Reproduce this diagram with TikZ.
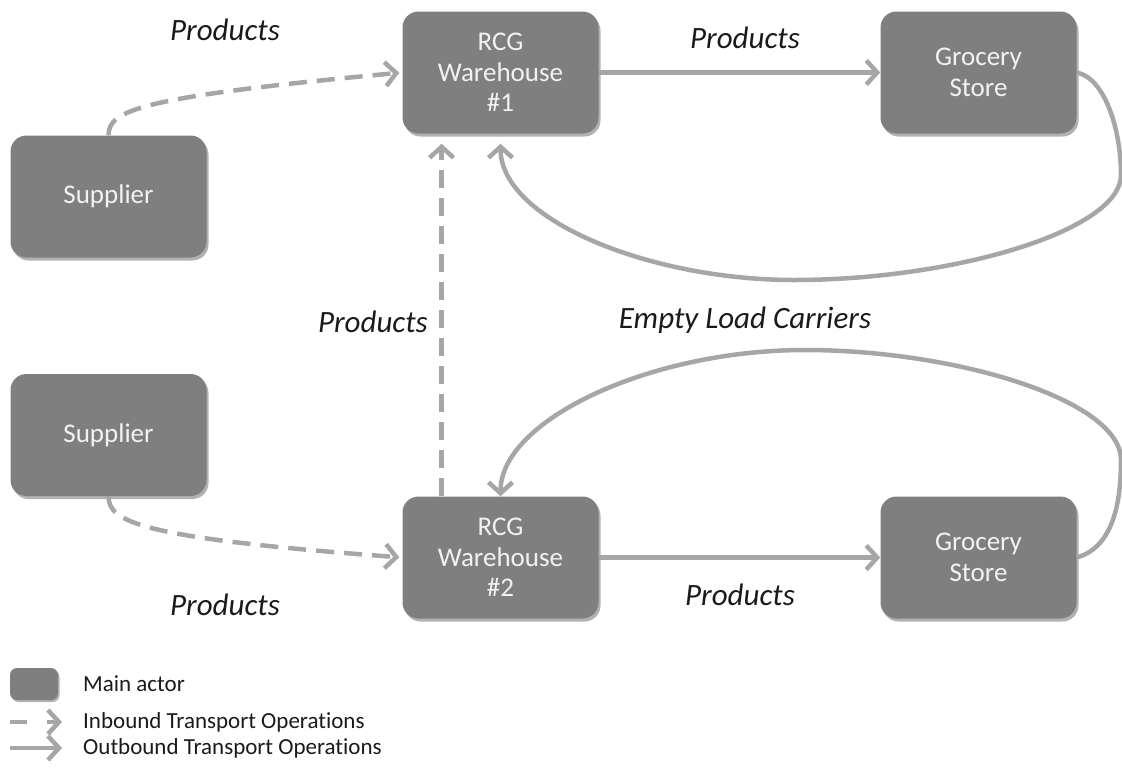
\documentclass[tikz,border=0pt]{standalone}
\usepackage{fontspec}
\setmainfont{Carlito}[Ligatures=NoCommon]
\usetikzlibrary{arrows.meta,shadows,calc}
\definecolor{boxgray}{HTML}{7F7F7F}
\definecolor{arrgray}{HTML}{A6A6A6}
\definecolor{lbl}{HTML}{1A1A1A}
\begin{document}
\begin{tikzpicture}[x=1pt,y=-1pt,
  actor/.style={fill=boxgray, rounded corners=16pt, minimum width=196pt, minimum height=122pt,
    inner sep=0pt, align=center, text=white!95!black, font=\fontsize{27}{30.5}\selectfont,
    drop shadow={shadow xshift=2pt, shadow yshift=-3pt, opacity=0.3, fill=black}},
  flow/.style={draw=arrgray, line width=4.5pt, line join=round, -{Straight Barb[length=11pt,width=24pt]}},
  inbound/.style={flow, dash pattern=on 18pt off 10pt},
  lab/.style={font=\fontsize{31}{36}\selectfont\itshape, text=lbl, inner sep=0pt},
  legtext/.style={font=\fontsize{23}{26}\selectfont, text=lbl, anchor=west, inner sep=0pt}]
\useasboundingbox (0,0) rectangle (1122,769);

% main actors
\node[actor] (sup1) at (108.5,196.5) {Supplier};
\node[actor] (wh1) at (500.5,72.5) {RCG\\Warehouse\\\#1};
\node[actor] (gs1) at (978.5,72.5) {Grocery\\Store};
\node[actor] (sup2) at (108.5,435) {Supplier};
\node[actor] (wh2) at (500.5,557.5) {RCG\\Warehouse\\\#2};
\node[actor] (gs2) at (978.5,557.5) {Grocery\\Store};

% inbound
\draw[inbound, shorten >=3pt] (sup1.north) .. controls (108.5,110) and (140,97) .. (wh1.west);
\draw[inbound, shorten >=3pt] (sup2.south) .. controls (108.5,522) and (140,538) .. (wh2.west);
\coordinate (v2) at ($(wh2.north west)!0.2!(wh2.north east)$);
\coordinate (v1) at ($(wh1.south west)!0.2!(wh1.south east)$);
\draw[inbound, shorten >=10pt] (v2) -- (v1);

% outbound
\draw[flow] (wh1.east) -- (gs1.west);
\draw[flow] (wh2.east) -- (gs2.west);
\coordinate (r1) at (1121,175);
\coordinate (r2) at (794,280);
\draw[flow, shorten >=10pt] (gs1.east) .. controls (1105,78) and (1121,130) .. (r1)
  .. controls (1121,230) and (955,280) .. (r2)
  .. controls (650,280) and (500.5,220) .. (wh1.south);
\coordinate (e1) at (1121,460);
\coordinate (e2) at (805,350);
\draw[flow] (gs2.east) .. controls (1110,548) and (1121,510) .. (e1)
  .. controls (1121,400) and (955,350) .. (e2)
  .. controls (650,350) and (500.5,420) .. (wh2.north);

% labels
\node[lab] (l1) at (225,30) {Products};
\node[lab] (l2) at (745,38) {Products};
\node[lab, anchor=east] (l3) at (428,322) {Products};
\node[lab] (l4) at (745,320) {Empty Load Carriers};
\node[lab] (l5) at (225,605) {Products};
\node[lab] (l6) at (740,595) {Products};

% legend
\node[fill=boxgray, rounded corners=7pt, minimum width=48pt, minimum height=32pt, inner sep=0pt,
  drop shadow={shadow xshift=1.5pt, shadow yshift=-2pt, opacity=0.3, fill=black}] (legbox) at (34,684) {};
\node[legtext] (legA) at (83,684) {Main actor};
\coordinate (ld1) at (10,722);
\coordinate (ld2) at (62,722);
\draw[flow, dash pattern=on 17pt off 20pt] (ld1) -- (ld2);
\node[legtext] (legB) at (83,722) {Inbound Transport Operations};
\coordinate (ls1) at (10,748);
\coordinate (ls2) at (62,748);
\draw[flow] (ls1) -- (ls2);
\node[legtext] (legC) at (83,748) {Outbound Transport Operations};
\end{tikzpicture}
\end{document}
